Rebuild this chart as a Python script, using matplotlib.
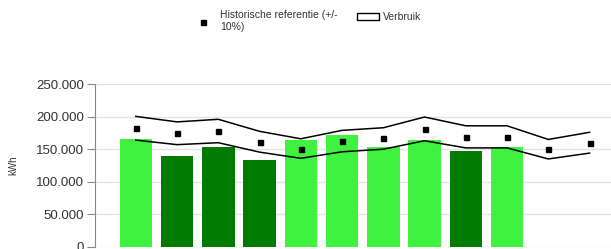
import matplotlib
matplotlib.use("Agg")
import matplotlib.pyplot as plt
from matplotlib.lines import Line2D
from matplotlib.patches import Rectangle

plt.rcParams['font.family'] = ['Liberation Sans', 'DejaVu Sans']

months = list(range(1, 13))
verbruik = [166000, 139500, 154000, 133000, 164000, 172000, 154000, 164000, 147500, 154000]
bar_colors = ['#3ff23f', '#007a00', '#007a00', '#007a00', '#3ff23f', '#3ff23f',
              '#3ff23f', '#3ff23f', '#007a00', '#3ff23f']
referentie = [182000, 174500, 178000, 161500, 151000, 162500, 166500, 181000, 169000, 169000, 150000, 160000]
boven = [200500, 192000, 196000, 177500, 166000, 179000, 183000, 199500, 186000, 186000, 165000, 176000]
onder = [164000, 157000, 160000, 145500, 136000, 146000, 150000, 163000, 152000, 152000, 135000, 144000]
yticks = [0, 50000, 100000, 150000, 200000, 250000]
ytick_labels = ['0', '50.000', '100.000', '150.000', '200.000', '250.000']
legend_labels = ['Historische referentie (+/-\n10%)', 'Verbruik']

W, H = 611, 249
fig = plt.figure(figsize=(W / 100, H / 100), dpi=100)
left, right, bottom, top = 95, 611, 246.7, 84.2
ax = fig.add_axes([left / W, (H - bottom) / H, (right - left) / W, (bottom - top) / H])

xs = list(range(len(months)))
ax.bar(xs[:len(verbruik)], verbruik, width=0.79, color=bar_colors, zorder=2)
ax.plot(xs, boven, color='black', lw=1.1, zorder=3)
ax.plot(xs, onder, color='black', lw=1.1, zorder=3)
ax.plot(xs, referentie, linestyle='none', marker='s', markersize=3.6,
        color='black', zorder=4)

ax.set_xlim(-0.99, 11.52)
ax.set_ylim(0, 250000)
ax.set_yticks(yticks)
ax.set_yticklabels(ytick_labels, fontsize=9.5, color='#333333')
ax.set_xticks([])
ax.yaxis.grid(True, color='#e4e4e4', lw=1, zorder=0)
ax.set_axisbelow(True)
for s in ['top', 'right', 'bottom']:
    ax.spines[s].set_visible(False)
ax.spines['left'].set_color('#888888')
ax.tick_params(axis='y', length=6, color='#888888', pad=2)

# y-axis title
fig.text(13.5 / W, 1 - 165 / H, 'kWh', rotation=90, ha='center', va='center',
         fontsize=7, color='#333333')

# legend (drawn manually to match the layout)
def fx(px):
    return px / W

def fy(py):
    return 1 - py / H

fig.add_artist(Line2D([fx(203)], [fy(22)], linestyle='none', marker='s',
                      markersize=3.6, color='black', transform=fig.transFigure))
fig.text(fx(220), fy(21.5), legend_labels[0], ha='left', va='center',
         fontsize=7.5, color='#333333', linespacing=1.25)
fig.add_artist(Rectangle((fx(357), fy(20)), 22 / W, 6.7 / H, facecolor='white',
                         edgecolor='black', linewidth=1, transform=fig.transFigure))
fig.text(fx(383), fy(16.5), legend_labels[1], ha='left', va='center',
         fontsize=7.5, color='#333333')

fig.savefig('out.png', dpi=100)
